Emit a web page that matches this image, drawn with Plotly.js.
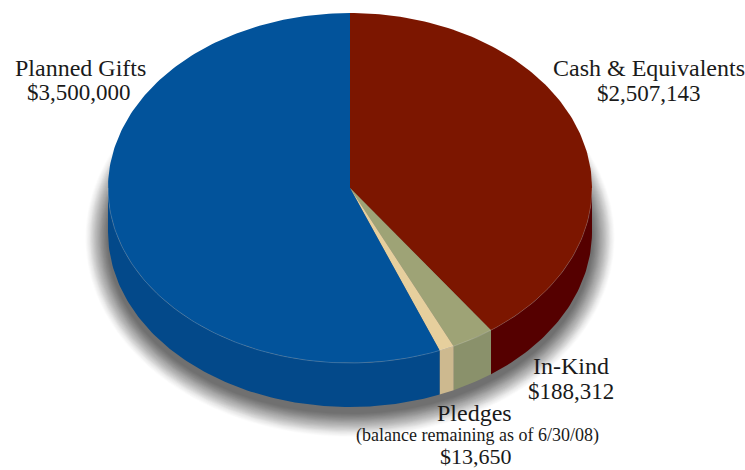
<!DOCTYPE html>
<html><head><meta charset="utf-8">
<script src="https://cdn.plot.ly/plotly-3.0.1.min.js"></script>
<style>html,body{margin:0;padding:0;background:#fff}#c{width:745px;height:470px}</style>
</head><body><div id="c"></div>
<script>
// Data
var categories = ["Cash & Equivalents", "In-Kind", "Pledges", "Planned Gifts"];
var amounts = ["$2,507,143", "$188,312", "$13,650", "$3,500,000"];
var drawnShares = [40.1, 2.86, 1.0, 56.04]; // slice sizes as drawn, percent
var topColors = ["#7c1600", "#9ea376", "#e6cf9d", "#02539b"];
var wallColors = ["#550000", "#8a916b", "#cdb98f", "#03498a"];
var note = "(balance remaining as of 6/30/08)";

// Geometry
var W = 745, H = 470, cx = 350, cy = 188, rx = 242, ry = 175, depth = 44;
var depthU = depth / ry;
var FONT = "Liberation Serif";

function arc(a0, a1) {
  var pts = [], n = Math.max(2, Math.ceil(Math.abs(a1 - a0) / 1));
  for (var i = 0; i <= n; i++) {
    var t = (a0 + (a1 - a0) * i / n) * Math.PI / 180;
    pts.push([Math.sin(t), Math.cos(t)]);
  }
  return pts;
}
function poly(pts, color, op) {
  return {type: "scatter", mode: "lines", x: pts.map(function(p){return p[0];}),
    y: pts.map(function(p){return p[1];}), fill: "toself", fillcolor: color,
    line: {width: 0}, hoverinfo: "skip", showlegend: false, opacity: op === undefined ? 1 : op};
}

var traces = [];
// soft shadow: thin layers, fading towards the outside
var layers = 24;
for (var k = layers; k >= 1; k--) {
  var sx = 1 + k * 0.95 / rx, sy = 1 + k * 1.0 / ry, off = depthU + 6 / ry;
  var fade = 1 - k / layers;
  var ring = arc(0, 360).map(function(p){ return [p[0] * sx, p[1] * sy - off]; });
  var alpha = Math.max(0.01, Math.round((0.012 + 0.03 * Math.sqrt(fade)) * 100) / 100);
  traces.push(poly(ring, "rgba(0,0,0," + alpha + ")"));
}
// walls and tops
var start = 0, angles = [];
drawnShares.forEach(function(s){ angles.push([start, start + s * 3.6]); start += s * 3.6; });
angles.forEach(function(a, i) {
  var from = Math.max(a[0], 90), to = Math.min(a[1], 270);
  if (to > from) {
    var top = arc(from, to);
    var bottom = top.slice().reverse().map(function(p){ return [p[0], p[1] - depthU]; });
    traces.push(poly(top.concat(bottom), wallColors[i]));
  }
});
angles.forEach(function(a, i) {
  traces.push(poly([[0, 0]].concat(arc(a[0], a[1])).concat([[0, 0]]), topColors[i]));
});
// thin light rim on the front edge
var rim = arc(90, 270);
traces.push({type: "scatter", mode: "lines", x: rim.map(function(p){return p[0];}),
  y: rim.map(function(p){return p[1];}), line: {width: 0.6, color: "rgba(255,255,255,0.3)"},
  hoverinfo: "skip", showlegend: false});

function label(px, py, text, size) {
  return {xref: "paper", yref: "paper", x: px / W, y: 1 - py / H, text: text, showarrow: false,
    xanchor: "center", yanchor: "middle", align: "center",
    font: {family: FONT, size: size, color: "#1a1a1a"}};
}
var annotations = [
  label(649, 68, categories[0], 24), label(649, 93, amounts[0], 23),
  label(571, 366, categories[1], 24), label(571, 391, amounts[1], 23),
  label(474, 413, categories[2], 24), label(477, 435, note, 18), label(476, 456, amounts[2], 22),
  label(80, 68, categories[3], 24), label(79, 92, amounts[3], 23)
];

var layout = {
  width: W, height: H, margin: {l: 0, r: 0, t: 0, b: 0},
  paper_bgcolor: "#fff", plot_bgcolor: "#fff", showlegend: false,
  xaxis: {range: [-cx / rx, (W - cx) / rx], visible: false, fixedrange: true},
  yaxis: {range: [-(H - cy) / ry, cy / ry], visible: false, fixedrange: true},
  annotations: annotations
};
Plotly.newPlot("c", traces, layout, {displayModeBar: false, staticPlot: true});
</script></body></html>
